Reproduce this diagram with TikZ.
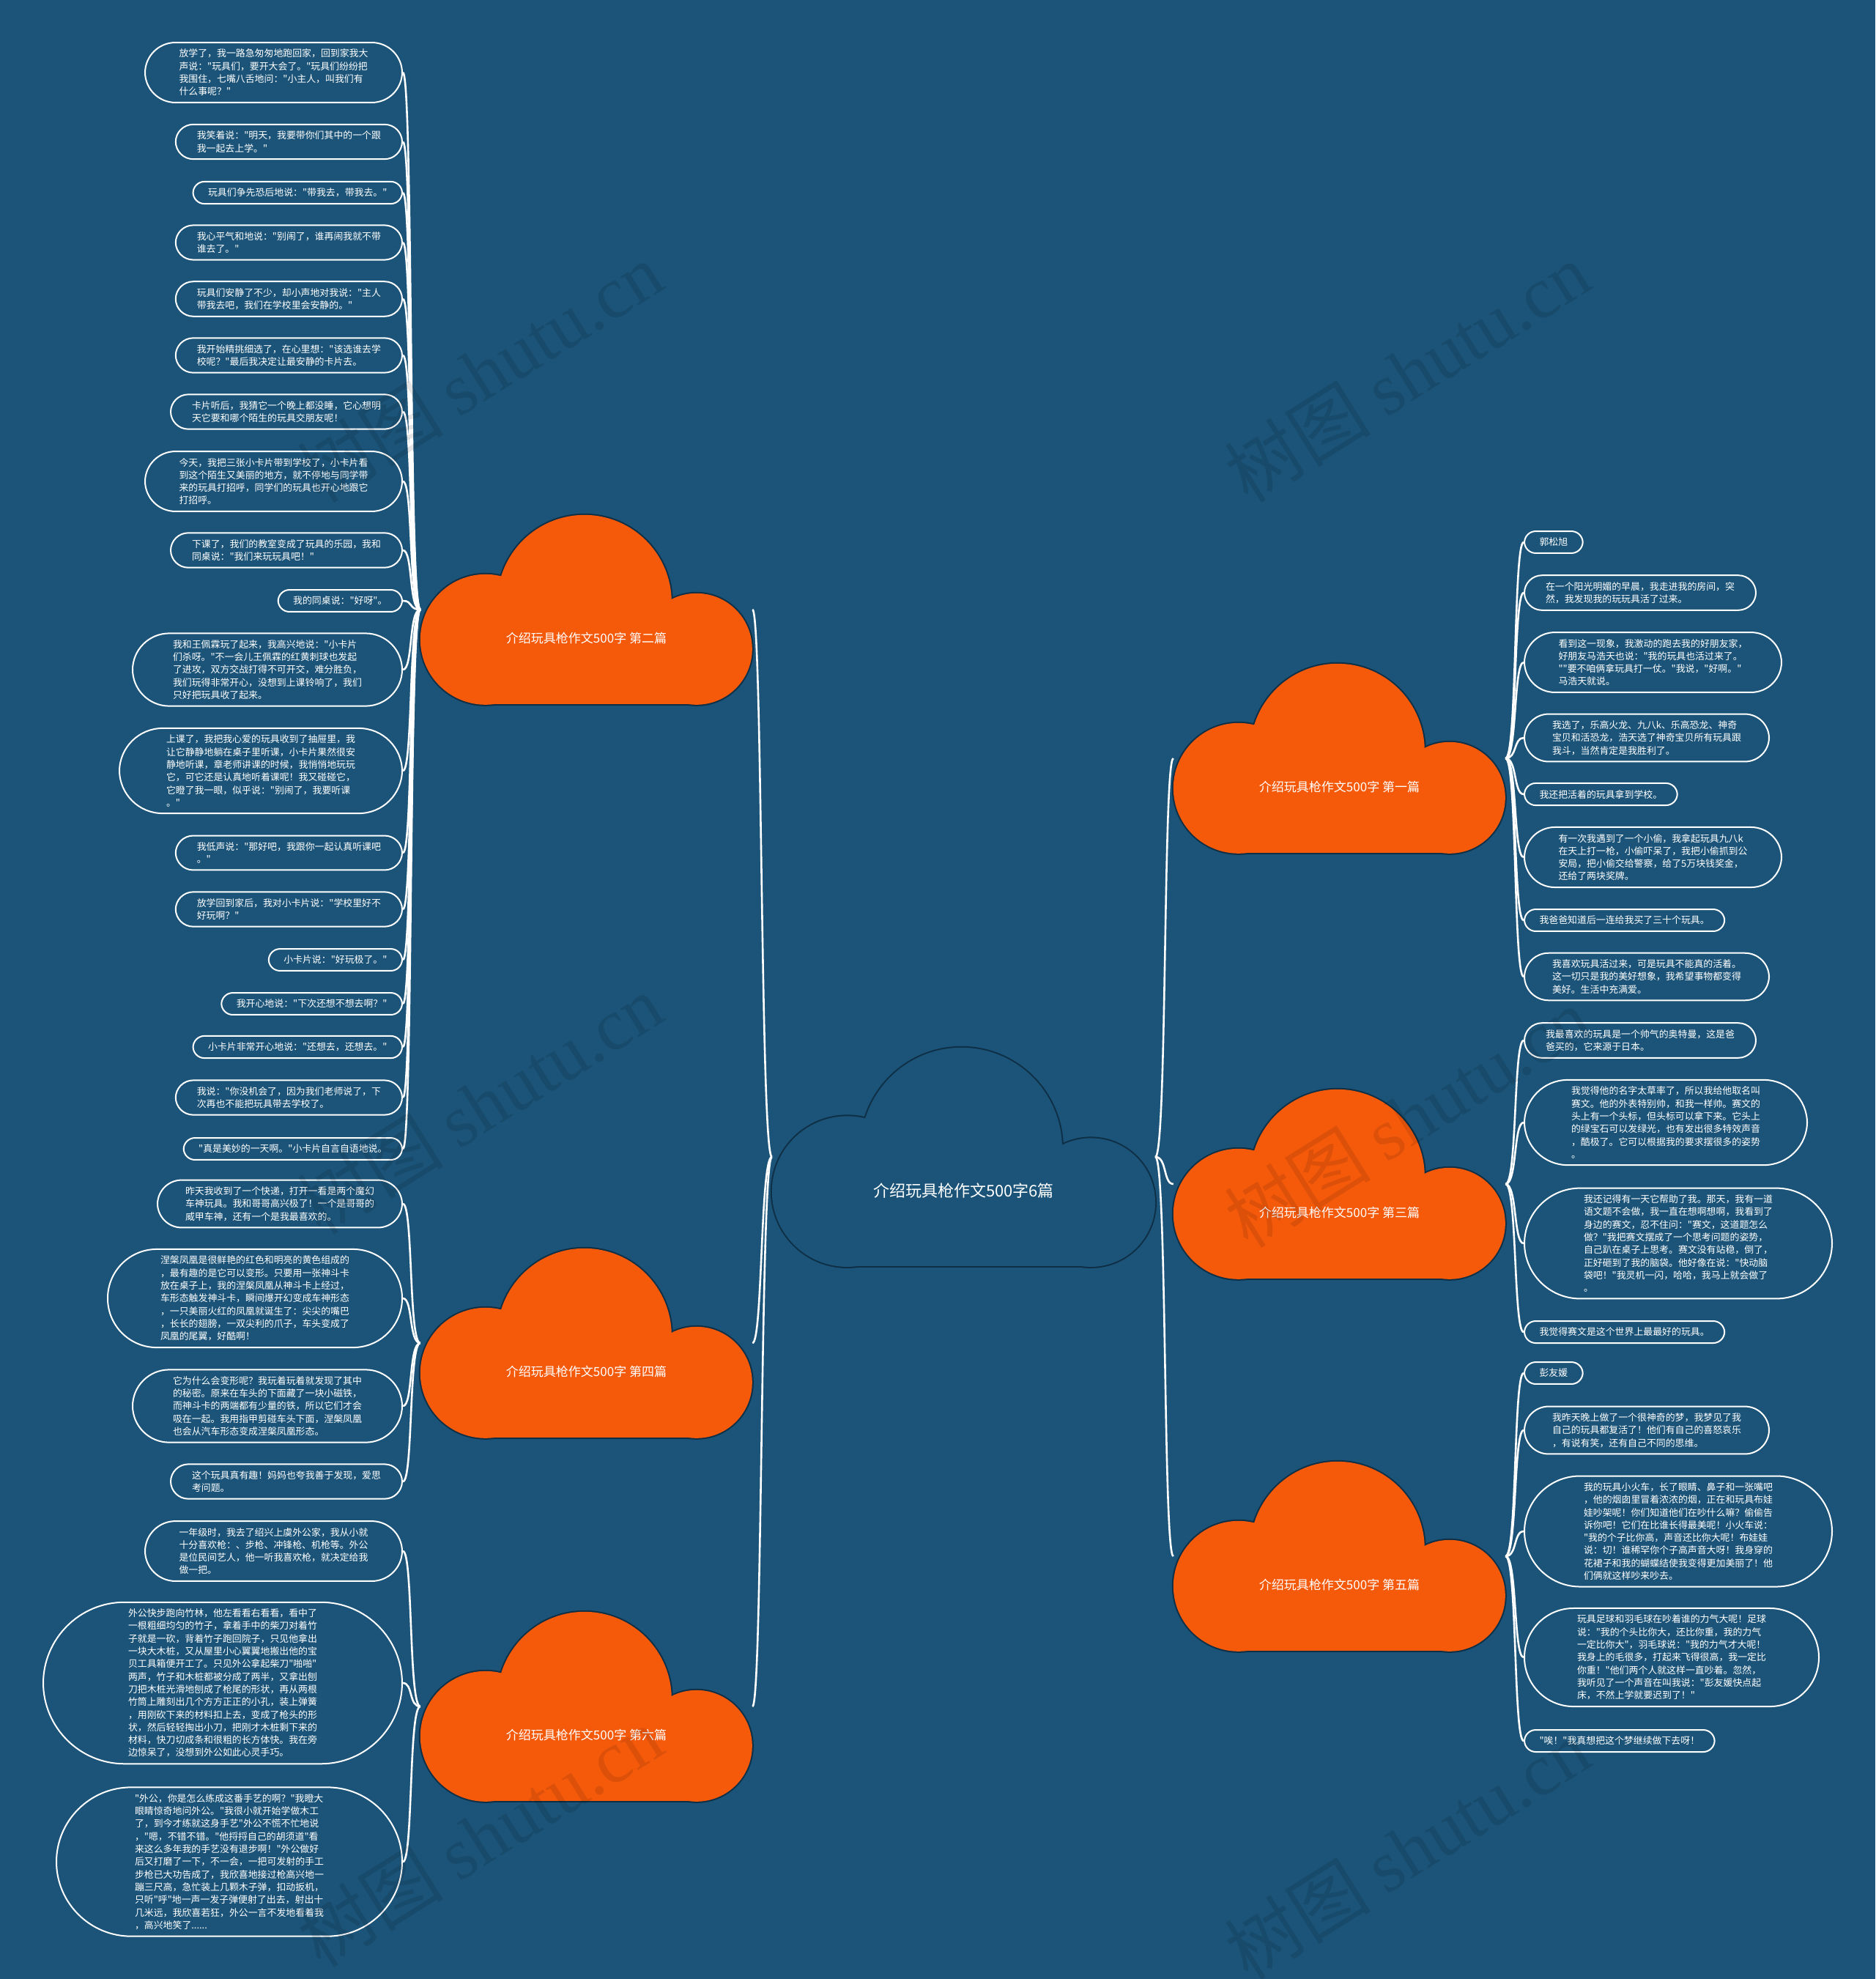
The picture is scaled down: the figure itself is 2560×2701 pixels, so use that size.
\documentclass[tikz,border=0pt]{standalone}
\usepackage{fontspec}
\newfontfamily\cjk{Noto Sans CJK SC}
\newfontfamily\wmserif{Liberation Serif}
\definecolor{bgblue}{HTML}{1B5478}
\definecolor{toyorange}{HTML}{F55A0B}
\definecolor{cloudrim}{HTML}{0E2F45}

\tikzset{
  leaf/.style={rectangle, rounded corners=#1pt, inner xsep=#1pt+5pt, draw=white, line width=2pt,
    text=white, align=left, inner ysep=9pt, font=\cjk\fontsize{12.9}{17.3}\selectfont},
  leaf/.default=24,
  link/.style={white, line width=2.6pt},
  cloudbox/.style={minimum width=453pt, minimum height=258pt, inner sep=0pt},
  captext/.style={text=white, font=\cjk\fontsize{17}{20}\selectfont},
  watermark/.style={rotate=32, opacity=0.1, text=black, font=\fontsize{100}{100}\selectfont}
}

% cloud drawn from circles: anchor node, scale, fill
\newcommand{\toycloud}[3]{%
  \begin{scope}[shift={(#1.north west)}, scale=#2]
    \draw[cloudrim, line width=4pt] (224,119) circle (119);
    \draw[cloudrim, line width=4pt] (89,170) circle (89);
    \draw[cloudrim, line width=4pt] (377,183) circle (76);
    \draw[cloudrim, line width=4pt] (89,170) rectangle (377,258);
    \fill[#3] (224,119) circle (119);
    \fill[#3] (89,170) circle (89);
    \fill[#3] (377,183) circle (76);
    \fill[#3] (89,170) rectangle (377,258);
  \end{scope}}

\begin{document}
\begin{tikzpicture}[x=1pt, y=-1pt]
    \useasboundingbox (0,0) rectangle (2560,2701);
    \fill[bgblue] (0,0) rectangle (2560,2701);

    % Clouds
    \node[cloudbox, minimum width=523pt, minimum height=298pt] (root) at (1315.5,1579) {};
    \node[cloudbox] (ch2) at (800.5,832) {};
    \node[cloudbox] (ch4) at (800.5,1833) {};
    \node[cloudbox] (ch6) at (800.5,2329) {};
    \node[cloudbox] (ch1) at (1828.5,1035) {};
    \node[cloudbox] (ch3) at (1828.5,1616) {};
    \node[cloudbox] (ch5) at (1828.5,2124) {};

    % Main branches
    \foreach \c in {ch2,ch4,ch6}
        \draw[link] (root.west) .. controls +(-16,0) and +(14,0) .. (\c.east);
    \foreach \c in {ch1,ch3,ch5}
        \draw[link] (root.east) .. controls +(16,0) and +(-14,0) .. (\c.west);

    \toycloud{root}{1.155}{bgblue}
    \toycloud{ch2}{1}{toyorange}
    \toycloud{ch4}{1}{toyorange}
    \toycloud{ch6}{1}{toyorange}
    \toycloud{ch1}{1}{toyorange}
    \toycloud{ch3}{1}{toyorange}
    \toycloud{ch5}{1}{toyorange}

    \node[captext, font=\cjk\fontsize{22}{26}\selectfont] at ([yshift=-46pt]root.center) {介绍玩具枪作文500字6篇};
    \node[captext] at ([yshift=-39pt]ch2.center) {介绍玩具枪作文500字 第二篇};
    \node[captext] at ([yshift=-39pt]ch4.center) {介绍玩具枪作文500字 第四篇};
    \node[captext] at ([yshift=-39pt]ch6.center) {介绍玩具枪作文500字 第六篇};
    \node[captext] at ([yshift=-39pt]ch1.center) {介绍玩具枪作文500字 第一篇};
    \node[captext] at ([yshift=-39pt]ch3.center) {介绍玩具枪作文500字 第三篇};
    \node[captext] at ([yshift=-39pt]ch5.center) {介绍玩具枪作文500字 第五篇};

    % Second piece
    \node[leaf=41.5, anchor=east] (two1) at (550,99) {放学了，我一路急匆匆地跑回家，回到家我大\\声说："玩具们，要开大会了。"玩具们纷纷把\\我围住，七嘴八舌地问："小主人，叫我们有\\什么事呢？"};
    \node[leaf, anchor=east] (two2) at (550,193.5) {我笑着说："明天，我要带你们其中的一个跟\\我一起去上学。"};
    \node[leaf=15.5, anchor=east] (two3) at (550,263) {玩具们争先恐后地说："带我去，带我去。"};
    \node[leaf, anchor=east] (two4) at (550,331) {我心平气和地说："别闹了，谁再闹我就不带\\谁去了。"};
    \node[leaf, anchor=east] (two5) at (550,408) {玩具们安静了不少，却小声地对我说："主人\\带我去吧，我们在学校里会安静的。"};
    \node[leaf, anchor=east] (two6) at (550,485) {我开始精挑细选了，在心里想："该选谁去学\\校呢？"最后我决定让最安静的卡片去。};
    \node[leaf, anchor=east] (two7) at (550,562) {卡片听后，我猜它一个晚上都没睡，它心想明\\天它要和哪个陌生的玩具交朋友呢！};
    \node[leaf=41.5, anchor=east] (two8) at (550,657) {今天，我把三张小卡片带到学校了，小卡片看\\到这个陌生又美丽的地方，就不停地与同学带\\来的玩具打招呼，同学们的玩具也开心地跟它\\打招呼。};
    \node[leaf, anchor=east] (two9) at (550,751) {下课了，我们的教室变成了玩具的乐园，我和\\同桌说："我们来玩玩具吧！"};
    \node[leaf=15.5, anchor=east] (two10) at (550,820) {我的同桌说："好呀"。};
    \node[leaf=50, anchor=east] (two11) at (550,914) {我和王佩霖玩了起来，我高兴地说："小卡片\\们杀呀。"不一会儿王佩霖的红黄刺球也发起\\了进攻，双方交战打得不可开交，难分胜负，\\我们玩得非常开心，没想到上课铃响了，我们\\只好把玩具收了起来。};
    \node[leaf=59, anchor=east] (two12) at (550,1052) {上课了，我把我心爱的玩具收到了抽屉里，我\\让它静静地躺在桌子里听课，小卡片果然很安\\静地听课，章老师讲课的时候，我悄悄地玩玩\\它，可它还是认真地听着课呢！我又碰碰它，\\它瞪了我一眼，似乎说："别闹了，我要听课\\。"};
    \node[leaf, anchor=east] (two13) at (550,1164) {我低声说："那好吧，我跟你一起认真听课吧\\。"};
    \node[leaf, anchor=east] (two14) at (550,1241) {放学回到家后，我对小卡片说："学校里好不\\好玩啊？"};
    \node[leaf=15.5, anchor=east] (two15) at (550,1310) {小卡片说："好玩极了。"};
    \node[leaf=15.5, anchor=east] (two16) at (550,1370) {我开心地说："下次还想不想去啊？"};
    \node[leaf=15.5, anchor=east] (two17) at (550,1429) {小卡片非常开心地说："还想去，还想去。"};
    \node[leaf, anchor=east] (two18) at (550,1498) {我说："你没机会了，因为我们老师说了，下\\次再也不能把玩具带去学校了。};
    \node[leaf=15.5, anchor=east] (two19) at (550,1568) {"真是美妙的一天啊。"小卡片自言自语地说。};
    \foreach \n in {1,...,19}
        \draw[link] (ch2.west) .. controls +(-16,0) and +(14,0) .. (two\n.east);

    % Fourth piece
    \node[leaf=33, anchor=east] (four1) at (550,1643) {昨天我收到了一个快递，打开一看是两个魔幻\\车神玩具。我和哥哥高兴极了！一个是哥哥的\\威甲车神，还有一个是我最喜欢的。};
    \node[leaf=67, anchor=east] (four2) at (550,1772) {涅槃凤凰是很鲜艳的红色和明亮的黄色组成的\\，最有趣的是它可以变形。只要用一张神斗卡\\放在桌子上，我的涅槃凤凰从神斗卡上经过，\\车形态触发神斗卡，瞬间爆开幻变成车神形态\\，一只美丽火红的凤凰就诞生了：尖尖的嘴巴\\，长长的翅膀，一双尖利的爪子，车头变成了\\凤凰的尾翼，好酷啊！};
    \node[leaf=50, anchor=east] (four3) at (550,1919) {它为什么会变形呢？我玩着玩着就发现了其中\\的秘密。原来在车头的下面藏了一块小磁铁，\\而神斗卡的两端都有少量的铁，所以它们才会\\吸在一起。我用指甲剪碰车头下面，涅槃凤凰\\也会从汽车形态变成涅槃凤凰形态。};
    \node[leaf, anchor=east] (four4) at (550,2022) {这个玩具真有趣！妈妈也夸我善于发现，爱思\\考问题。};
    \foreach \n in {1,...,4}
        \draw[link] (ch4.west) .. controls +(-16,0) and +(14,0) .. (four\n.east);

    % Sixth piece
    \node[leaf=41.5, anchor=east] (six1) at (550,2117) {一年级时，我去了绍兴上虞外公家，我从小就\\十分喜欢枪：、步枪、冲锋枪、机枪等。外公\\是位民间艺人，他一听我喜欢枪，就决定给我\\做一把。};
    \node[leaf=111, anchor=east] (six2) at (550,2297) {外公快步跑向竹林，他左看看右看看，看中了\\一根粗细均匀的竹子，拿着手中的柴刀对着竹\\子就是一砍，背着竹子跑回院子，只见他拿出\\一块大木桩，又从屋里小心翼翼地搬出他的宝\\贝工具箱便开工了。只见外公拿起柴刀"啪啪"\\两声，竹子和木桩都被分成了两半，又拿出刨\\刀把木桩光滑地刨成了枪尾的形状，再从两根\\竹筒上雕刻出几个方方正正的小孔，装上弹簧\\，用刚砍下来的材料扣上去，变成了枪头的形\\状，然后轻轻掏出小刀，把刚才木桩剩下来的\\材料，快刀切成条和很粗的长方体快。我在旁\\边惊呆了，没想到外公如此心灵手巧。};
    \node[leaf=102, anchor=east] (six3) at (550,2541) {"外公，你是怎么练成这番手艺的啊？"我瞪大\\眼睛惊奇地问外公。"我很小就开始学做木工\\了，到今才练就这身手艺"外公不慌不忙地说\\，"嗯，不错不错。"他捋捋自己的胡须道"看\\来这么多年我的手艺没有退步啊！"外公做好\\后又打磨了一下，不一会，一把可发射的手工\\步枪已大功告成了，我欣喜地接过枪高兴地一\\蹦三尺高，急忙装上几颗木子弹，扣动扳机，\\只听"呼"地一声一发子弹便射了出去，射出十\\几米远，我欣喜若狂，外公一言不发地看着我\\，高兴地笑了......};
    \foreach \n in {1,...,3}
        \draw[link] (ch6.west) .. controls +(-16,0) and +(14,0) .. (six\n.east);

    % First piece
    \node[leaf=15.5, anchor=west] (one1) at (2080,740) {郭松旭};
    \node[leaf, anchor=west] (one2) at (2080,809) {在一个阳光明媚的早晨，我走进我的房间，突\\然，我发现我的玩玩具活了过来。};
    \node[leaf=41.5, anchor=west] (one3) at (2080,904) {看到这一现象，我激动的跑去我的好朋友家，\\好朋友马浩天也说："我的玩具也活过来了。\\""要不咱俩拿玩具打一仗。"我说，"好啊。"\\马浩天就说。};
    \node[leaf=33, anchor=west] (one4) at (2080,1007) {我选了，乐高火龙、九八k、乐高恐龙、神奇\\宝贝和活恐龙，浩天选了神奇宝贝所有玩具跟\\我斗，当然肯定是我胜利了。};
    \node[leaf=15.5, anchor=west] (one5) at (2080,1084) {我还把活着的玩具拿到学校。};
    \node[leaf=41.5, anchor=west] (one6) at (2080,1170) {有一次我遇到了一个小偷，我拿起玩具九八k\\在天上打一枪，小偷吓呆了，我把小偷抓到公\\安局，把小偷交给警察，给了5万块钱奖金，\\还给了两块奖牌。};
    \node[leaf=15.5, anchor=west] (one7) at (2080,1256) {我爸爸知道后一连给我买了三十个玩具。};
    \node[leaf=33, anchor=west] (one8) at (2080,1333) {我喜欢玩具活过来，可是玩具不能真的活着。\\这一切只是我的美好想象，我希望事物都变得\\美好。生活中充满爱。};
    \foreach \n in {1,...,8}
        \draw[link] (ch1.east) .. controls +(16,0) and +(-14,0) .. (one\n.west);

    % Third piece
    \node[leaf, anchor=west] (three1) at (2080,1420) {我最喜欢的玩具是一个帅气的奥特曼，这是爸\\爸买的，它来源于日本。};
    \node[leaf=59, anchor=west] (three2) at (2080,1532) {我觉得他的名字太草率了，所以我给他取名叫\\赛文。他的外表特别帅，和我一样帅。赛文的\\头上有一个头标，但头标可以拿下来。它头上\\的绿宝石可以发绿光，也有发出很多特效声音\\，酷极了。它可以根据我的要求摆很多的姿势\\。};
    \node[leaf=76, anchor=west] (three3) at (2080,1697) {我还记得有一天它帮助了我。那天，我有一道\\语文题不会做，我一直在想啊想啊，我看到了\\身边的赛文，忍不住问："赛文，这道题怎么\\做？"我把赛文摆成了一个思考问题的姿势，\\自己趴在桌子上思考。赛文没有站稳，倒了，\\正好砸到了我的脑袋。他好像在说："快动脑\\袋吧！"我灵机一闪，哈哈，我马上就会做了\\。};
    \node[leaf=15.5, anchor=west] (three4) at (2080,1818) {我觉得赛文是这个世界上最最好的玩具。};
    \foreach \n in {1,...,4}
        \draw[link] (ch3.east) .. controls +(16,0) and +(-14,0) .. (three\n.west);

    % Fifth piece
    \node[leaf=15.5, anchor=west] (five1) at (2080,1874) {彭友媛};
    \node[leaf=33, anchor=west] (five2) at (2080,1952) {我昨天晚上做了一个很神奇的梦，我梦见了我\\自己的玩具都复活了！他们有自己的喜怒哀乐\\，有说有笑，还有自己不同的思维。};
    \node[leaf=76, anchor=west] (five3) at (2080,2090) {我的玩具小火车，长了眼睛、鼻子和一张嘴吧\\，他的烟囱里冒着浓浓的烟，正在和玩具布娃\\娃吵架呢！你们知道他们在吵什么嘛？偷偷告\\诉你吧！它们在比谁长得最美呢！小火车说：\\"我的个子比你高，声音还比你大呢！布娃娃\\说：切！谁稀罕你个子高声音大呀！我身穿的\\花裙子和我的蝴蝶结使我变得更加美丽了！他\\们俩就这样吵来吵去。};
    \node[leaf=67, anchor=west] (five4) at (2080,2262) {玩具足球和羽毛球在吵着谁的力气大呢！足球\\说："我的个头比你大，还比你重，我的力气\\一定比你大"，羽毛球说："我的力气才大呢！\\我身上的毛很多，打起来飞得很高，我一定比\\你重！"他们两个人就这样一直吵着。忽然，\\我听见了一个声音在叫我说："彭友媛快点起\\床，不然上学就要迟到了！"};
    \node[leaf=15.5, anchor=west] (five5) at (2080,2376) {"唉！"我真想把这个梦继续做下去呀！};
    \foreach \n in {1,...,5}
        \draw[link] (ch5.east) .. controls +(16,0) and +(-14,0) .. (five\n.west);

    % Watermarks
    \foreach \wx/\wy in {655/508, 1921/508, 655/1507, 1921/1525, 655/2507, 1921/2524}
        \node[watermark] at (\wx,\wy) {\cjk 树图 \wmserif shutu.cn};
\end{tikzpicture}
\end{document}
